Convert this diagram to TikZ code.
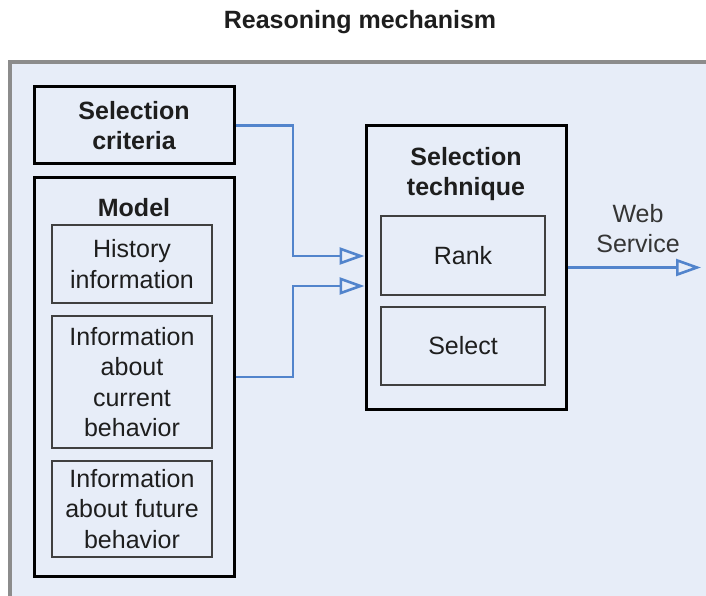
\documentclass[tikz,border=0pt]{standalone}
\usepackage{fontspec}
\setmainfont{Liberation Sans}
\usetikzlibrary{arrows.meta,calc}
\definecolor{panelfill}{RGB}{231,237,248}
\definecolor{panelline}{RGB}{140,140,140}
\definecolor{flowblue}{RGB}{82,132,204}
\definecolor{ink}{RGB}{30,30,30}
\tikzset{
  outerbox/.style={draw=black, line width=3pt, inner sep=0pt, align=center,
    text=ink, font=\bfseries\fontsize{25}{30}\selectfont},
  innerbox/.style={draw=ink!85, line width=1.8pt, inner sep=0pt, align=center,
    text=ink, font=\fontsize{25}{30.5}\selectfont},
  boxtitle/.style={align=center, text=ink, font=\bfseries\fontsize{25}{30}\selectfont},
  flow/.style={draw=flowblue, line width=2.4pt,
    -{Triangle[open, length=25pt, width=17pt, line width=2.6pt]}},
}
\begin{document}
\begin{tikzpicture}[x=1pt, y=-1pt]
  \useasboundingbox (0,0) rectangle (706,596);
  \clip (0,0) rectangle (706,596);

  % heading
  \node[boxtitle] (title) at (360,22) {Reasoning mechanism};

  % shaded panel holding the mechanism
  \draw[fill=panelfill, draw=panelline, line width=3.4pt] (10,62) rectangle (720,610);

  % left column
  \node[outerbox, minimum width=200pt, minimum height=77pt] (crit) at (134,125.5)
    {Selection\\criteria};
  \node[outerbox, minimum width=200pt, minimum height=398pt] (model) at (134,377) {};
  \node[boxtitle] (modeltitle) at (134,208) {Model};
  \node[innerbox, minimum width=160pt, minimum height=78pt] (hist) at (132,264)
    {History\\information};
  \node[innerbox, minimum width=160pt, minimum height=132pt] (curr) at (132,382)
    {Information\\about\\current\\behavior};
  \node[innerbox, minimum width=160pt, minimum height=96pt] (fut) at (132,509)
    {Information\\about future\\behavior};

  % selection technique
  \node[outerbox, minimum width=200pt, minimum height=283pt] (tech) at (466,267.5) {};
  \node[boxtitle] (techtitle) at (466,174.5) {Selection\\technique};
  \node[innerbox, minimum width=164pt, minimum height=79pt] (rank) at (463,255.5) {Rank};
  \node[innerbox, minimum width=164pt, minimum height=78pt] (select) at (463,346) {Select};

  % output
  \coordinate (wsend) at (701,267.5);
  \node[align=center, text=ink!90, font=\fontsize{25}{30}\selectfont] (wslabel) at (638,229)
    {Web\\Service};

  % connectors
  \draw[flow] (crit.east) -| (293,190) |- ($(tech.west)+(0,-11.5)$);
  \draw[flow] (model.east) -| (293,320) |- ($(tech.west)+(0,18.5)$);
  \draw[flow] (tech.east) -- (wsend);
\end{tikzpicture}
\end{document}
